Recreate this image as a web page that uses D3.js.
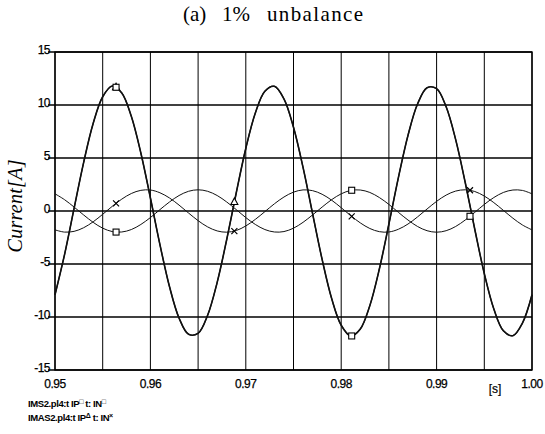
<!DOCTYPE html>
<html><head><meta charset="utf-8">
<script src="https://cdn.jsdelivr.net/npm/d3@7"></script>
<style>body{margin:0;background:#fff}svg{display:block}</style>
</head><body>
<svg id="c" width="545" height="434"></svg>
<script>
// time samples [s]
const times = [0.950,0.951,0.952,0.953,0.954,0.955,0.956,0.957,0.958,0.959,
  0.960,0.961,0.962,0.963,0.964,0.965,0.966,0.967,0.968,0.969,
  0.970,0.971,0.972,0.973,0.974,0.975,0.976,0.977,0.978,0.979,
  0.980,0.981,0.982,0.983,0.984,0.985,0.986,0.987,0.988,0.989,
  0.990,0.991,0.992,0.993,0.994,0.995,0.996,0.997,0.998,0.999,1.000];
// positive-sequence current IP (IMS2 and IMAS2 overlap)
const ipValues = [-7.90,-4.11,0.25,4.57,8.26,10.78,11.79,11.14,8.93,5.47,
  1.23,-3.17,-7.13,-10.09,-11.63,-11.54,-9.83,-6.73,-2.69,1.72,
  5.90,9.24,11.30,11.76,10.57,7.90,4.11,-0.25,-4.57,-8.26,
  -10.78,-11.79,-11.14,-8.93,-5.47,-1.23,3.17,7.13,10.09,11.63,
  11.54,9.83,6.73,2.69,-1.72,-5.90,-9.24,-11.30,-11.76,-10.57,-7.90];
// negative-sequence current IN, IMS2
const inIMS2 = [1.62,1.07,0.37,-0.37,-1.07,-1.62,-1.94,-1.98,-1.75,-1.27,
  -0.62,0.13,0.85,1.46,1.86,2.00,1.86,1.46,0.85,0.13,
  -0.62,-1.27,-1.75,-1.98,-1.94,-1.62,-1.07,-0.37,0.37,1.07,
  1.62,1.94,1.98,1.75,1.27,0.62,-0.13,-0.85,-1.46,-1.86,
  -2.00,-1.86,-1.46,-0.85,-0.13,0.62,1.27,1.75,1.98,1.94,1.62];
// negative-sequence current IN, IMAS2
const inIMAS2 = [-1.78,-1.99,-1.92,-1.58,-1.02,-0.31,0.44,1.12,1.65,1.95,
  1.98,1.72,1.23,0.56,-0.19,-0.91,-1.50,-1.88,-2.00,-1.84,
  -1.41,-0.79,-0.06,0.68,1.32,1.78,1.99,1.92,1.58,1.02,
  0.31,-0.44,-1.12,-1.65,-1.95,-1.98,-1.72,-1.23,-0.56,0.19,
  0.91,1.50,1.88,2.00,1.84,1.41,0.79,0.06,-0.68,-1.32,-1.78];
// marker times per series
const marksIpIMS2 = [0.9564, 0.9811];
const marksIpIMAS2 = [0.9564, 0.9688];
const marksInIMS2 = [0.9564, 0.9811, 0.9935];
const marksInIMAS2 = [0.9564, 0.9688, 0.9811, 0.9935];
// ticks
const xTicks = [0.95,0.955,0.96,0.965,0.97,0.975,0.98,0.985,0.99,0.995,1.00];
const xTickLabels = {0.95:"0.95",0.96:"0.96",0.97:"0.97",0.98:"0.98",0.99:"0.99",1.00:"1.00"};
const yTicks = [-15,-10,-5,0,5,10,15];

const svg = d3.select("#c");
const x = d3.scaleLinear().domain([0.95,1.00]).range([55,532]);
const y = d3.scaleLinear().domain([-15,15]).range([370,52]);
const sans = "'Liberation Sans', Arial, sans-serif";
const serif = "'Liberation Serif', 'Times New Roman', serif";

// grid
const g = svg.append("g");
g.selectAll(".vg").data(xTicks).join("line")
  .attr("x1", d=>x(d)).attr("x2", d=>x(d)).attr("y1", y(15)).attr("y2", y(-15))
  .attr("stroke","#000").attr("stroke-width",1);
g.selectAll(".hg").data(yTicks).join("line")
  .attr("x1", x(0.95)-7).attr("x2", x(1.0)).attr("y1", d=>y(d)).attr("y2", d=>y(d))
  .attr("stroke","#000").attr("stroke-width",1.3);
g.append("rect").attr("x",x(0.95)).attr("y",y(15)).attr("width",x(1)-x(0.95)).attr("height",y(-15)-y(15))
  .attr("fill","none").attr("stroke","#000").attr("stroke-width",1.4);

// y labels
g.selectAll(".yl").data(yTicks).join("text")
  .attr("x", 50).attr("y", d=>y(d)+2).attr("text-anchor","end")
  .attr("font-family",sans).attr("font-size",12).attr("letter-spacing",-0.5)
  .attr("stroke","#000").attr("stroke-width",0.25)
  .text(d=>d);
// x labels
g.selectAll(".xl").data(xTicks.filter(d=>xTickLabels[d])).join("text")
  .attr("x", d=>x(d)).attr("y", 388).attr("text-anchor","middle")
  .attr("font-family",sans).attr("font-size",12).attr("letter-spacing",-0.5)
  .attr("stroke","#000").attr("stroke-width",0.25)
  .text(d=>xTickLabels[d]);
g.append("text").attr("x",495).attr("y",393).attr("text-anchor","middle")
  .attr("font-family",sans).attr("font-size",12).attr("stroke","#000").attr("stroke-width",0.2).text("[s]");

// lines
const line = d3.line().x(d=>x(d[0])).y(d=>y(d[1])).curve(d3.curveCatmullRom.alpha(0.5));
function draw(vals, w){
  return svg.append("path").datum(times.map((t,i)=>[t,vals[i]]))
    .attr("d", line).attr("fill","none").attr("stroke","#111").attr("stroke-width",w);
}
const pIpA = draw(ipValues, 1.6);
const pIpB = draw(ipValues, 1.2);
const pInA = draw(inIMS2, 1.0);
const pInB = draw(inIMAS2, 1.0);

function yAt(path, px){
  const node = path.node(); const L = node.getTotalLength();
  let lo=0, hi=L;
  for(let i=0;i<40;i++){ const mid=(lo+hi)/2; const p=node.getPointAtLength(mid); if(p.x<px) lo=mid; else hi=mid; }
  return node.getPointAtLength((lo+hi)/2).y;
}
function marks(path, ts, shape){
  ts.forEach(t=>{
    const px = x(t), py = yAt(path, px);
    if(shape==="square"){
      svg.append("rect").attr("x",px-3).attr("y",py-3).attr("width",6).attr("height",6)
        .attr("fill","#fff").attr("stroke","#000").attr("stroke-width",1.1);
    } else if(shape==="tri"){
      svg.append("path").attr("d",`M${px},${py-4}L${px+3.5},${py+2.5}L${px-3.5},${py+2.5}Z`)
        .attr("fill","#fff").attr("stroke","#000").attr("stroke-width",1.1);
    } else {
      svg.append("path").attr("d",`M${px-3},${py-3}L${px+3},${py+3}M${px-3},${py+3}L${px+3},${py-3}`)
        .attr("stroke","#000").attr("stroke-width",1.2);
    }
  });
}
marks(pIpB, marksIpIMAS2, "tri");
marks(pIpA, marksIpIMS2, "square");
marks(pInA, marksInIMS2, "square");
marks(pInB, marksInIMAS2, "cross");

// title
svg.append("text").attr("x",183).attr("y",21).attr("font-family",serif).attr("font-size",21).text("(a)");
svg.append("text").attr("x",222).attr("y",21).attr("font-family",serif).attr("font-size",21).text("1%");
svg.append("text").attr("x",267).attr("y",21).attr("font-family",serif).attr("font-size",21)
  .attr("textLength",96).attr("lengthAdjust","spacing").text("unbalance");
// y axis title
svg.append("text").attr("transform","translate(22,206) rotate(-90)").attr("text-anchor","middle")
  .attr("font-family",serif).attr("font-style","italic").attr("font-size",20)
  .attr("textLength",93).attr("lengthAdjust","spacing").text("Current[A]");

// legend
const leg = [["IMS2.pl4:t IP","\u25A1"," t: IN","\u25A1",407],["IMAS2.pl4:t IP","\u0394"," t: IN","\u00D7",421]];
leg.forEach(d=>{
  const t = svg.append("text").attr("x",28).attr("y",d[4]).attr("font-family",sans)
    .attr("font-size",9.5).attr("font-weight","bold").attr("letter-spacing",-0.4);
  t.append("tspan").text(d[0]);
  t.append("tspan").attr("dy",-3).attr("font-size",7).text(d[1]);
  t.append("tspan").attr("dy",3).text(d[2]);
  t.append("tspan").attr("dy",-3).attr("font-size",7).text(d[3]);
});
</script>
</body></html>
